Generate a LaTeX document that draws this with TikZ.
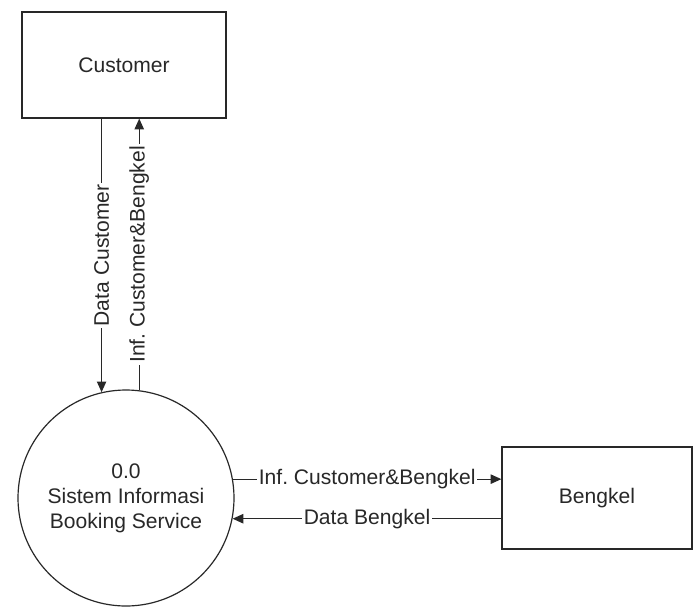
\documentclass[tikz,border=0pt]{standalone}
\usepackage{fontspec}
\setmainfont{Liberation Sans}
\usetikzlibrary{arrows.meta,calc}
\frenchspacing

\definecolor{inkgray}{RGB}{40,40,40}

\tikzset{every picture/.style={line width=0.9pt}}
\tikzset{
  entity/.style={draw=inkgray, rectangle, inner sep=0pt, text=inkgray},
  process/.style={draw=inkgray, circle, minimum size=162pt, inner sep=0pt, align=center, text=inkgray},
  flow/.style={draw=inkgray, -{Triangle[length=8pt,width=7pt]}},
  flowlabel/.style={midway, fill=white, inner sep=1.5pt, text=inkgray}
}

\begin{document}
\begin{tikzpicture}[x=0.75pt,y=0.75pt,yscale=-1,xscale=1,
  font=\fontsize{15.8}{18.75}\selectfont]
    \useasboundingbox (0,0) rectangle (694,608);

    % External entities
    \node [entity, minimum width=153pt, minimum height=79.5pt] (cust) at (124,65) {Customer};
    \node [entity, minimum width=142.5pt, minimum height=76.5pt] (bengkel) at (597,498) {Bengkel};

    % Process
    \node [process] (proc) at (126,498) {0.0\\Sistem Informasi\\Booking Service};

    % Data flows
    \draw [flow] (cust.south -| proc.103) -- (proc.103)
        node [flowlabel, rotate=90] {Data Customer};
    \draw [flow] (proc.83) -- (cust.south -| proc.83)
        node [flowlabel, rotate=90] {Inf. Customer\&Bengkel};
    \draw [flow] (proc.10) -- (bengkel.west |- proc.10)
        node [flowlabel] {Inf. Customer\&Bengkel};
    \draw [flow] (bengkel.west |- proc.-11) -- (proc.-11)
        node [flowlabel] {Data Bengkel};

\end{tikzpicture}
\end{document}
